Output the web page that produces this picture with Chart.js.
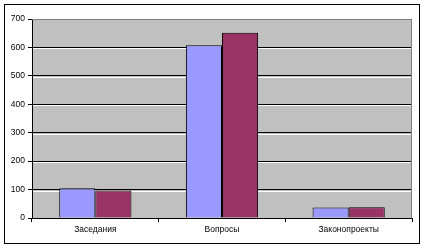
<!DOCTYPE html>
<html>
<head>
<meta charset="utf-8">
<script src="https://cdn.jsdelivr.net/npm/chart.js@4/dist/chart.umd.min.js"></script>
<style>
  html, body { margin: 0; padding: 0; background: #fff; }
</style>
</head>
<body>
<canvas id="chart" width="425" height="250"></canvas>
<script>
const categories = ['Заседания', 'Вопросы', 'Законопроекты']
const seriesA = [105, 608, 37]
const seriesB = [97, 652, 38]
const yTicks = [0, 100, 200, 300, 400, 500, 600, 700]

// frame round the whole chart, grey plot background, white edge under gridlines
const excelFrame = {
    id: 'excelFrame',
    beforeDraw: (chart) => {
        const ctx = chart.ctx
        const a = chart.chartArea
        ctx.save()
        ctx.fillStyle = '#fff'
        ctx.fillRect(0, 0, chart.width, chart.height)
        ctx.strokeStyle = '#000'
        ctx.lineWidth = 1
        ctx.strokeRect(4.5, 4.5, 415, 239)
        ctx.fillStyle = '#c0c0c0'
        ctx.fillRect(a.left, a.top, a.right - a.left, a.bottom - a.top)
        ctx.restore()
    },
    beforeDatasetsDraw: (chart) => {
        const ctx = chart.ctx
        const a = chart.chartArea
        const y = chart.scales.y
        ctx.save()
        ctx.strokeStyle = '#fff'
        ctx.lineWidth = 1
        ctx.beginPath()
        yTicks.slice(1, -1).forEach(v => {
            const py = Math.round(y.getPixelForValue(v)) + 1.5
            ctx.moveTo(a.left + 1, py)
            ctx.lineTo(a.right - 1, py)
        })
        ctx.stroke()
        ctx.restore()
    },
    afterDatasetsDraw: (chart) => {
        const ctx = chart.ctx
        const a = chart.chartArea
        ctx.save()
        ctx.strokeStyle = '#808080'
        ctx.lineWidth = 1
        ctx.beginPath()
        ctx.moveTo(a.left, a.top + 0.5)
        ctx.lineTo(a.right - 0.5, a.top + 0.5)
        ctx.lineTo(a.right - 0.5, a.bottom)
        ctx.stroke()
        ctx.restore()
    }
}

const tickFont = { family: 'Liberation Sans', size: 8.5 }

new Chart(document.getElementById('chart'), {
    type: 'bar',
    data: {
        labels: categories,
        datasets: [
            { data: seriesA, backgroundColor: '#9999ff', borderColor: '#000', borderWidth: 1 },
            { data: seriesB, backgroundColor: '#993366', borderColor: '#000', borderWidth: 1 }
        ]
    },
    options: {
        responsive: false,
        animation: false,
        maintainAspectRatio: false,
        layout: { padding: { top: 19, left: 4, right: 13, bottom: 0 } },
        plugins: { legend: { display: false }, tooltip: { enabled: false } },
        datasets: { bar: { categoryPercentage: 0.57, barPercentage: 1 } },
        scales: {
            x: {
                offset: true,
                grid: { offset: true, drawOnChartArea: false, color: '#000', tickLength: 4 },
                border: { color: '#000' },
                ticks: { color: '#000', padding: 3, font: tickFont },
                afterFit: (s) => { s.height = 32 }
            },
            y: {
                min: 0,
                max: 700,
                afterBuildTicks: (s) => { s.ticks = yTicks.map(v => ({ value: v })) },
                grid: { color: '#000', tickLength: 4 },
                border: { color: '#000' },
                ticks: { color: '#000', padding: 3, autoSkip: false, font: tickFont },
                afterFit: (s) => { s.width = 28 }
            }
        }
    },
    plugins: [excelFrame]
})
</script>
</body>
</html>
